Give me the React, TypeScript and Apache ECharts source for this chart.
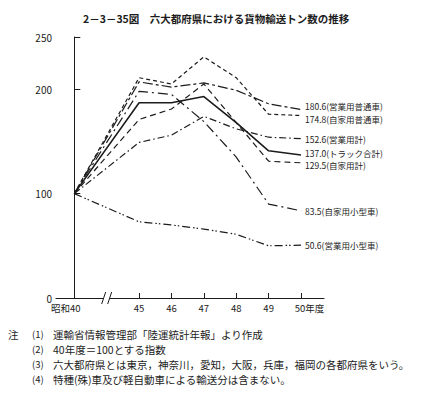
import React, { useEffect, useRef } from "react";
import * as echarts from "echarts";

// x slots: '' marks the axis break between 昭和40 and 45
const slots = ["昭和40", "", "45", "46", "47", "48", "49", "50年度"];
const years = ["昭和40", "45", "46", "47", "48", "49", "50年度"];

const eigyoFutsu = [100, 207, 202, 206, 199, 186, 180.6];
const jikaFutsu = [100, 211, 205, 231, 211, 176, 174.8];
const eigyoKei = [100, 149, 156, 174, 162, 154, 152.6];
const truckKei = [100, 187, 187, 193, 168, 141, 137.0];
const jikaKei = [100, 171, 181, 205, 168, 131, 129.5];
const jikaKogata = [100, 198, 195, 169, 135, 90, 83.5];
const eigyoKogata = [100, 73, 70, 66, 61, 50, 50.6];

const yTicks = [0, 100, 200, 250];

const notes = [
  ["注", "(1)", "運輸省情報管理部「陸運統計年報」より作成"],
  ["", "(2)", "40年度＝100とする指数"],
  ["", "(3)", "六大都府県とは東京，神奈川，愛知，大阪，兵庫，福岡の各都府県をいう。"],
  ["", "(4)", "特種(殊)車及び軽自動車による輸送分は含まない。"],
];

const seriesDefs = [
  { name: "営業用普通車", data: eigyoFutsu, dash: [10, 3, 3, 3], width: 1.2, off: -3 },
  { name: "自家用普通車", data: jikaFutsu, dash: [4, 3], width: 1.2, off: 3 },
  { name: "営業用計", data: eigyoKei, dash: [7, 3, 1.5, 3], width: 1.2, off: 0 },
  { name: "トラック合計", data: truckKei, dash: "solid", width: 1.6, off: -2 },
  { name: "自家用計", data: jikaKei, dash: [6, 4], width: 1.2, off: 2 },
  { name: "自家用小型車", data: jikaKogata, dash: [10, 4, 2, 4], width: 1.2, off: 0 },
  { name: "営業用小型車", data: eigyoKogata, dash: [8, 3, 1.5, 2, 1.5, 3], width: 1.2, off: 0 },
];

const FONT = "'Noto Sans CJK JP', 'Noto Sans', sans-serif";
const INK = "#1c1c1c";

export default function App() {
  const ref = useRef<HTMLDivElement>(null);
  useEffect(() => {
    if (!ref.current) return;
    const chart = echarts.init(ref.current, null, { renderer: "svg" });
    const tickSlots = years.map((y) => slots.indexOf(y));
    const option: any = {
      animation: false,
      backgroundColor: "#fff",
      title: {
        text: "2－3－35図　六大都府県における貨物輸送トン数の推移",
        left: 78,
        top: 8,
        textStyle: { fontFamily: FONT, fontSize: 10.5, fontWeight: "bold", color: INK },
      },
      grid: { left: 56, right: 105, top: 37, bottom: 98, containLabel: false },
      xAxis: {
        type: "value",
        min: -0.565,
        max: 7.71,
        splitLine: { show: false },
        axisLine: { show: true, onZero: false, lineStyle: { color: INK, width: 1 } },
        axisTick: {
          show: true,
          inside: true,
          length: 5,
          customValues: tickSlots,
          lineStyle: { color: INK },
        },
        axisLabel: {
          customValues: tickSlots,
          margin: 5,
          fontFamily: FONT,
          fontSize: 9.5,
          color: INK,
          formatter: (v: number) => {
            const s = slots[Math.round(v)];
            if (Math.round(v) === 0) return "{t|" + s + "}{sp| }";
            if (Math.round(v) === slots.length - 1) return "{sp| }{t|" + s + "}";
            return "{t|" + s + "}";
          },
          rich: {
            t: { fontFamily: FONT, fontSize: 9.5, color: INK },
            sp: { width: 17, fontSize: 9.5 },
          },
        },
      },
      yAxis: {
        type: "value",
        min: 0,
        max: 250,
        splitLine: { show: false },
        axisLine: { show: true, lineStyle: { color: INK, width: 1 } },
        axisTick: { show: true, inside: true, length: 6, customValues: yTicks, lineStyle: { color: INK } },
        axisLabel: { customValues: yTicks, margin: 4, fontFamily: FONT, fontSize: 10, color: INK },
      },
      series: seriesDefs.map((s) => ({
        type: "line",
        name: s.name,
        symbol: "none",
        data: s.data.map((v, i) => [slots.indexOf(years[i]), v]),
        lineStyle: { color: INK, width: s.width, type: s.dash as any },
        endLabel: {
          show: true,
          distance: 4,
          offset: [0, s.off],
          fontFamily: FONT,
          fontSize: 8.5,
          color: INK,
          formatter: () => s.data[s.data.length - 1].toFixed(1) + "(" + s.name + ")",
        },
      })),
    };
    chart.setOption(option);
    const [bx, by] = chart.convertToPixel({ gridIndex: 0 }, [slots.indexOf(""), 0]) as number[];
    const graphics: any[] = [
      {
        type: "rect",
        shape: { x: bx - 3, y: by - 2, width: 6, height: 4 },
        style: { fill: "#fff" },
        z: 100,
      },
      { type: "line", shape: { x1: bx - 5, y1: by + 6, x2: bx - 1, y2: by - 6 }, style: { stroke: INK, lineWidth: 1 }, z: 101 },
      { type: "line", shape: { x1: bx + 1, y1: by + 6, x2: bx + 5, y2: by - 6 }, style: { stroke: INK, lineWidth: 1 }, z: 101 },
    ];
    notes.forEach((n, i) => {
      const y = 334 + i * 15;
      if (n[0]) graphics.push({ type: "text", x: 8, y, style: { text: n[0], font: `10.5px ${FONT}`, fill: INK, verticalAlign: "middle" } });
      graphics.push({ type: "text", x: 32, y, style: { text: n[1], font: `9.5px ${FONT}`, fill: INK, verticalAlign: "middle" } });
      graphics.push({ type: "text", x: 53, y, style: { text: n[2], font: `10.5px ${FONT}`, fill: INK, verticalAlign: "middle" } });
    });
    chart.setOption({ graphic: graphics });
    return () => chart.dispose();
  }, []);
  return (
    <div
      ref={ref}
      style={{ position: "fixed", left: 0, top: 0, width: 429, height: 396, background: "#fff" }}
    />
  );
}
